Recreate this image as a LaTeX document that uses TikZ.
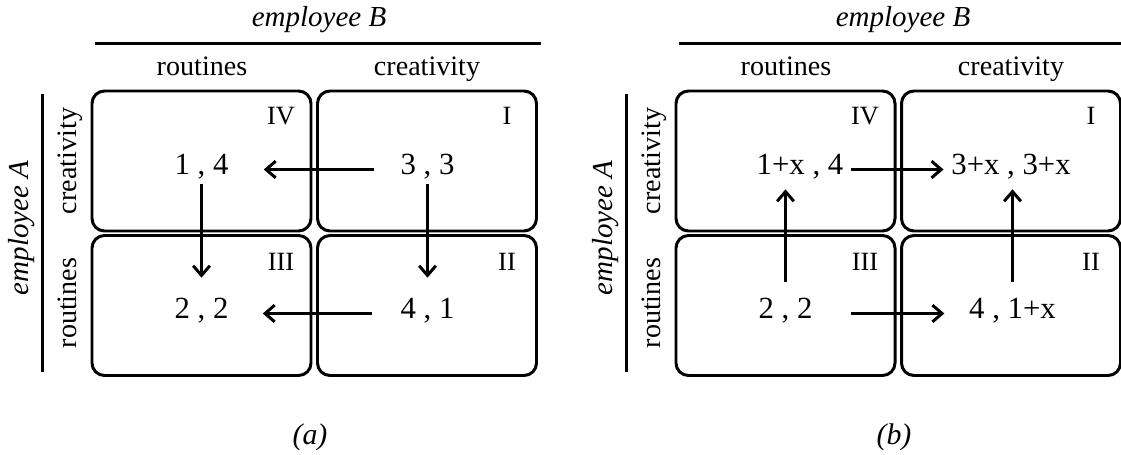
\documentclass[tikz,border=0pt]{standalone}
\usepackage{fontspec}
\setmainfont{Liberation Serif}
\usetikzlibrary{positioning,arrows.meta}

\begin{document}
\begin{tikzpicture}[>={Straight Barb[length=5.5pt,width=9.5pt]},
    cell/.style={draw, line width=1.7pt, rounded corners=0.25cm, minimum width=4.38cm, minimum height=2.8cm},
    pay/.style={inner sep=0pt, text height=0.7em, text depth=0.15em, font=\fontsize{17.5}{20}\selectfont},
    quad/.style={inner sep=0pt, text height=0.7em, text depth=0em, font=\fontsize{15}{18}\selectfont},
    lbl/.style={inner sep=0pt, text height=0.7em, text depth=0.22em, font=\fontsize{16}{19}\selectfont},
    who/.style={inner sep=0pt, text height=0.7em, text depth=0.22em, font=\fontsize{16.5}{19}\selectfont\itshape},
    caption/.style={inner sep=0pt, font=\fontsize{17}{20}\selectfont\itshape},
    move/.style={->, line width=1.7pt}]
    \useasboundingbox (0,0) rectangle (22.42,9.08);

    % frame of both games
    \foreach \dx/\tag in {0/a, 11.68/b} {
      \begin{scope}[xshift=\dx cm]
        \node[who] (whoB\tag) at (6.38,8.64) {employee B};
        \draw[line width=1.7pt] (1.90,8.21) -- (10.82,8.21);
        \node[lbl] (colr\tag) at (4.04,7.66) {routines};
        \node[lbl] (colc\tag) at (8.54,7.66) {creativity};

        \node[who, rotate=90] (whoA\tag) at (0.48,4.52) {employee A};
        \draw[line width=1.7pt] (0.85,7.20) -- (0.85,1.64);
        \node[lbl, rotate=90] (rowc\tag) at (1.44,5.86) {creativity};
        \node[lbl, rotate=90] (rowr\tag) at (1.44,3.02) {routines};

        % the four outcomes
        \node[cell] (c4\tag) at (4.03,5.86) {};
        \node[cell] (c1\tag) at (8.54,5.86) {};
        \node[cell] (c3\tag) at (4.03,2.97) {};
        \node[cell] (c2\tag) at (8.54,2.97) {};
        \node[quad] (n4\tag) at (5.62,6.71) {IV};
        \node[quad] (n1\tag) at (10.14,6.71) {I};
        \node[quad] (n3\tag) at (5.62,3.80) {III};
        \node[quad] (n2\tag) at (10.14,3.80) {II};

        \node[caption] (cap\tag) at (6.2,0.34) {(\tag)};
      \end{scope}
    }

    % (a) payoffs and moves
    \node[pay] (p4) at (4.03,5.69) {1 , 4};
    \node[pay] (p1) at (8.55,5.69) {3 , 3};
    \node[pay] (p3) at (4.03,2.81) {2 , 2};
    \node[pay] (p2) at (8.55,2.81) {4 , 1};
    \draw[move, shorten <=0.53cm, shorten >=0.7cm] (p1) -- (p4);
    \draw[move, shorten <=0.57cm, shorten >=0.68cm] (p2) -- (p3);
    \draw[move, shorten <=0.13cm, shorten >=0.56cm] (p4) -- (p3);
    \draw[move, shorten <=0.13cm, shorten >=0.56cm] (p1) -- (p2);

    % (b) payoffs and moves
    \node[pay] (q4) at (16.0,5.69) {1+x , 4};
    \node[pay] (q1) at (20.22,5.69) {3+x , 3+x};
    \node[pay] (q3) at (15.71,2.81) {2 , 2};
    \node[pay] (q2) at (20.25,2.81) {4 , 1+x};
    \draw[move, shorten <=0.15cm, shorten >=0.15cm] (q4) -- (q1);
    \draw[move, shorten <=0.76cm, shorten >=0.49cm] (q3) -- (q2);
    \draw[move, shorten <=0.48cm, shorten >=0.24cm] (q3) -- (q3 |- q4.south);
    \draw[move, shorten <=0.48cm, shorten >=0.24cm] (q2) -- (q2 |- q1.south);
\end{tikzpicture}
\end{document}
